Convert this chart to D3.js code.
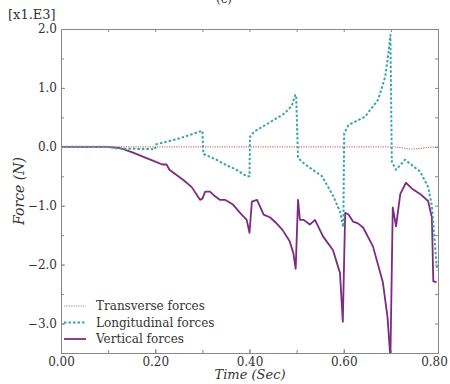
<!DOCTYPE html>
<html lang="en">
<head>
    <meta charset="utf-8">
    <title>Forces</title>
    <script type="text/javascript" src="https://d3js.org/d3.v7.min.js"></script>
    <style>
        body { margin: 0; background: #fff; }
        svg text { font-family: "DejaVu Serif", serif; fill: #333; }
        .axis path, .axis line { stroke: #888; stroke-width: 1; }
        .axis text { font-size: 12px; fill: #333; }
        .legend text { font-size: 12px; }
    </style>
</head>
<body>
<div id="container"></div>
<script type="text/javascript">
    // data (force in kN)
    const vertT = [0, 0.1, 0.125, 0.153, 0.175, 0.2, 0.215, 0.224, 0.23, 0.259, 0.277, 0.295, 0.3, 0.306, 0.316, 0.327, 0.337,
        0.348, 0.365, 0.38, 0.394, 0.4, 0.405, 0.416, 0.43, 0.444, 0.455, 0.47, 0.485, 0.493, 0.498, 0.503, 0.507, 0.515,
        0.528, 0.539, 0.556, 0.577, 0.592, 0.598, 0.603, 0.61, 0.62, 0.63, 0.641, 0.662, 0.683, 0.693, 0.699, 0.704,
        0.711, 0.72, 0.732, 0.745, 0.762, 0.779, 0.787, 0.79, 0.797];
    const vertV = [0, 0, -0.02, -0.1, -0.17, -0.25, -0.3, -0.3, -0.39, -0.56, -0.68, -0.9, -0.88, -0.76, -0.76, -0.84, -0.9,
        -0.9, -0.98, -1.12, -1.24, -1.46, -0.93, -0.9, -1.15, -1.2, -1.28, -1.41, -1.6, -1.8, -2.07, -0.9, -1.24, -1.24,
        -1.32, -1.24, -1.52, -1.75, -2.14, -2.97, -1.12, -1.15, -1.27, -1.3, -1.37, -1.69, -2.3, -2.9, -3.6, -1.03,
        -1.35, -0.8, -0.61, -0.71, -0.8, -0.92, -1.2, -2.28, -2.3];

    const longT = [0, 0.1, 0.12, 0.2, 0.201, 0.25, 0.295, 0.3, 0.302, 0.33, 0.348, 0.37, 0.394, 0.4, 0.401, 0.41, 0.44,
        0.475, 0.49, 0.497, 0.499, 0.503, 0.518, 0.554, 0.578, 0.592, 0.599, 0.601, 0.61, 0.645, 0.673, 0.688, 0.695,
        0.699, 0.702, 0.711, 0.73, 0.762, 0.779, 0.787, 0.793, 0.798];
    const longV = [0, 0, -0.03, -0.04, 0.04, 0.14, 0.26, 0.27, -0.12, -0.22, -0.3, -0.38, -0.5, -0.5, 0.17, 0.26, 0.4,
        0.57, 0.7, 0.88, 0.88, -0.19, -0.3, -0.5, -0.84, -1.1, -1.36, 0.23, 0.37, 0.51, 0.8, 1.19, 1.6,
        1.9, -0.25, -0.39, -0.22, -0.42, -0.68, -1.0, -1.6, -2.1];

    const tranT = [0, 0.3, 0.5, 0.7, 0.72, 0.74, 0.76, 0.78, 0.8];
    const tranV = [0, 0, 0, 0, -0.01, -0.04, -0.03, -0.01, 0];

    const xTicks = [0, 0.2, 0.4, 0.6, 0.8];
    const yTicks = [-3, -2, -1, 0, 1, 2];
    const legendNames = ["Transverse forces", "Longitudinal forces", "Vertical forces"];

    const w = 450, h = 384;
    const margin = {top: 29, right: 12, bottom: 31, left: 61};
    const svg = d3.select("#container").append("svg").attr("width", w).attr("height", h);

    const x = d3.scaleLinear().domain([0, 0.8]).range([margin.left, w - margin.right]);
    const y = d3.scaleLinear().domain([-3.5, 2.0]).range([h - margin.bottom, margin.top]);

    svg.append("clipPath").attr("id", "clip").append("rect")
        .attr("x", margin.left).attr("y", margin.top)
        .attr("width", x(0.8) - x(0)).attr("height", y(-3.5) - y(2));

    const series = [
        {t: tranT, v: tranV, color: "#c07a7a", width: 1.2, dash: "1.2,1.2"},
        {t: longT, v: longV, color: "#3aa6a6", width: 2, dash: "2.5,2"},
        {t: vertT, v: vertV, color: "#7d2a82", width: 1.8, dash: null}
    ];

    const line = d3.line().x(d => x(d[0])).y(d => y(d[1]));

    // curves, vertical first so dotted lines stay visible
    [series[2], series[1], series[0]].forEach(function (s) {
        svg.append("path")
            .datum(s.t.map((t, i) => [t, s.v[i]]))
            .attr("clip-path", "url(#clip)")
            .attr("fill", "none")
            .attr("stroke", s.color)
            .attr("stroke-width", s.width)
            .attr("stroke-dasharray", s.dash)
            .attr("stroke-linejoin", "round")
            .attr("d", line);
    });

    // axes, ticks pointing inward
    const xMinor = d3.range(0, 0.81, 0.1);
    const yMinor = d3.range(-3.5, 2.01, 0.5);
    svg.append("g").attr("class", "axis").attr("transform", "translate(0," + y(-3.5) + ")")
        .call(d3.axisBottom(x).tickValues(xMinor).tickSize(-3).tickFormat(""));
    svg.append("g").attr("class", "axis").attr("transform", "translate(0," + y(-3.5) + ")")
        .call(d3.axisBottom(x).tickValues(xTicks).tickSize(-4).tickPadding(4).tickFormat(d3.format(".2f")))
        .call(g => g.select(".domain").remove())
        .call(g => g.selectAll(".tick:last-of-type text").attr("dx", -4));
    svg.append("g").attr("class", "axis").attr("transform", "translate(0," + y(2) + ")")
        .call(d3.axisTop(x).tickValues(xMinor).tickSize(-3).tickFormat(""));
    svg.append("g").attr("class", "axis").attr("transform", "translate(" + x(0) + ",0)")
        .call(d3.axisLeft(y).tickValues(yMinor).tickSize(-3).tickFormat(""));
    svg.append("g").attr("class", "axis").attr("transform", "translate(" + x(0) + ",0)")
        .call(d3.axisLeft(y).tickValues(yTicks).tickSize(-4).tickPadding(4).tickFormat(d3.format(".1f")))
        .call(g => g.select(".domain").remove());
    svg.append("g").attr("class", "axis").attr("transform", "translate(" + x(0.8) + ",0)")
        .call(d3.axisRight(y).tickValues(yMinor).tickSize(-3).tickFormat(""));

    // texts
    svg.append("text").attr("x", 8).attr("y", 19).style("font-size", "13px").text("[x1.E3]");
    svg.append("text").attr("x", 224).attr("y", 3).style("font-size", "12px").attr("text-anchor", "middle").text("(c)");
    svg.append("text")
        .attr("transform", "translate(24," + y(-0.75) + ") rotate(-90)")
        .attr("text-anchor", "middle").style("font-size", "14px").style("font-style", "italic")
        .text("Force (N)");
    svg.append("text").attr("x", 250).attr("y", 379)
        .attr("text-anchor", "middle").style("font-size", "13px").style("font-style", "italic")
        .text("Time (Sec)");

    // legend
    const legend = svg.append("g").attr("class", "legend");
    legendNames.forEach(function (name, i) {
        const s = series[i];
        const ly = 306 + i * 16.5;
        legend.append("line")
            .attr("x1", 64).attr("x2", 86).attr("y1", ly).attr("y2", ly)
            .attr("stroke", s.color).attr("stroke-width", s.width).attr("stroke-dasharray", s.dash);
        legend.append("text").attr("x", 96).attr("y", ly + 4).text(name);
    });
</script>
</body>
</html>
